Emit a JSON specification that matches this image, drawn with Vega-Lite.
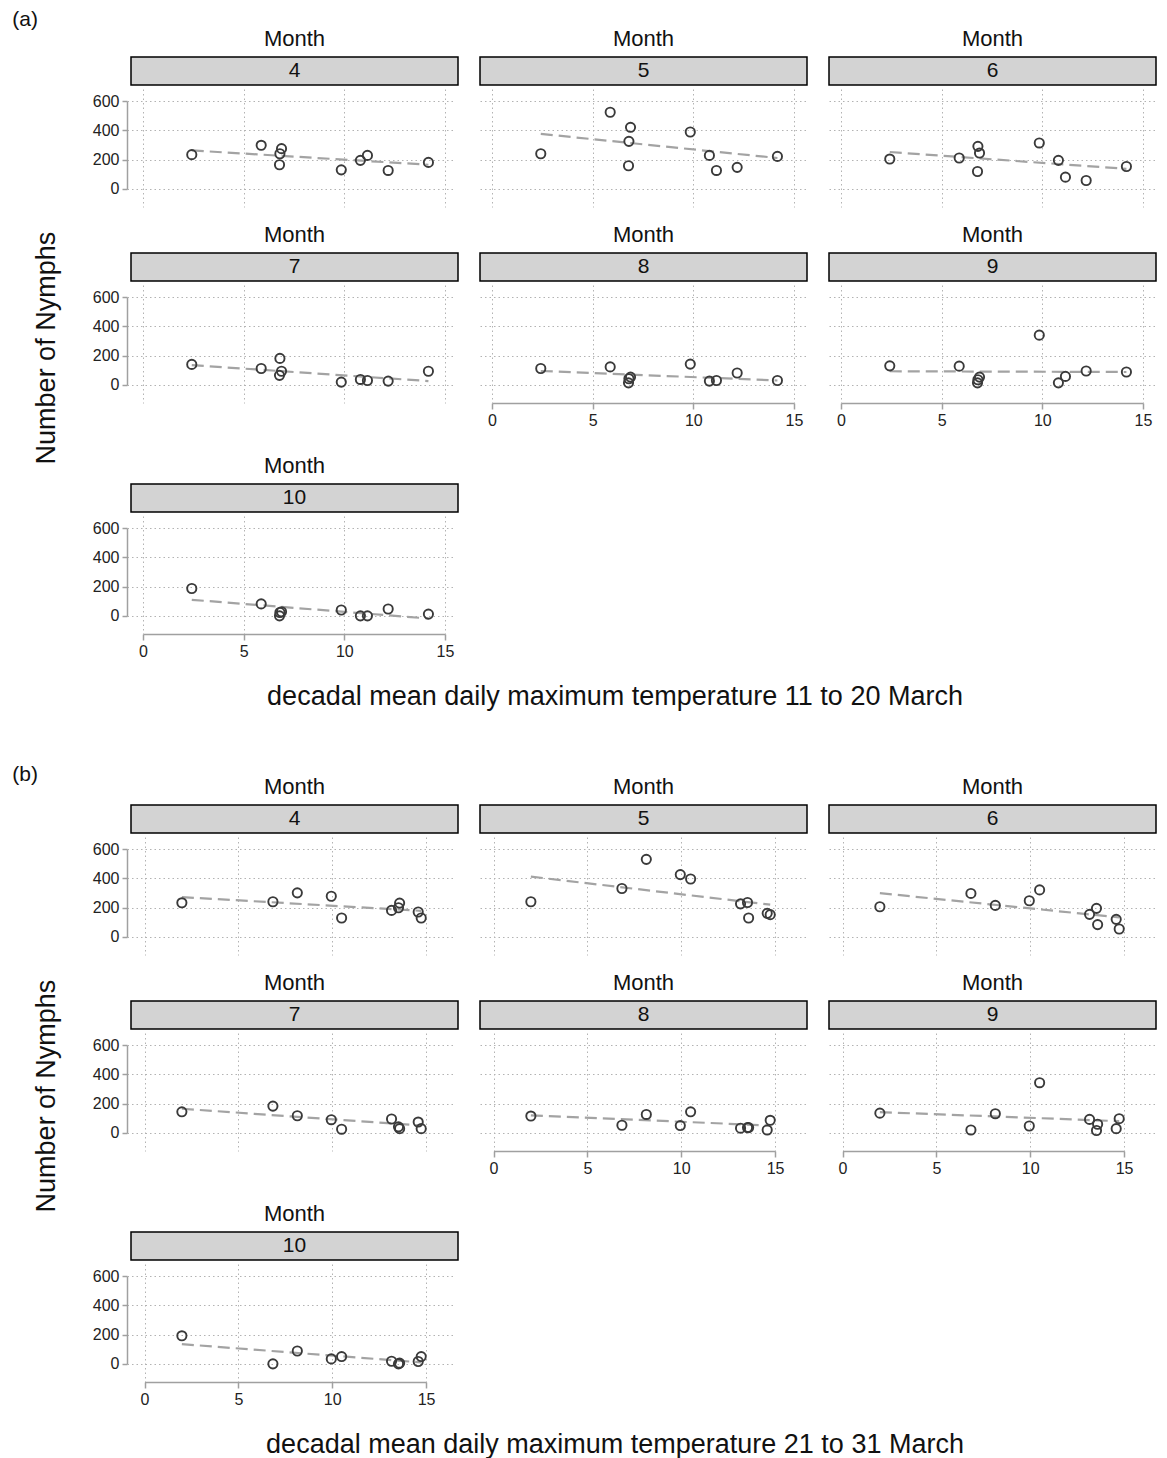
{
"$schema": "https://vega.github.io/schema/vega-lite/v6.json",
"padding": {"left": 12, "top": 9, "right": 5, "bottom": 3},
"background": "white",
"config": {
  "font": "Liberation Sans",
  "view": {"stroke": null},
  "title": {"fontSize": 22, "fontWeight": "normal", "offset": 6, "color": "#111111", "anchor": "middle"},
  "axis": {"grid": true, "gridColor": "#b3b3b3", "gridDash": [1.5, 3], "gridWidth": 1, "domainColor": "#a0a0a0", "domainWidth": 1.5, "tickColor": "#a0a0a0", "tickWidth": 1.5, "labelFontSize": 16, "labelColor": "#222222", "labelFlush": false, "labelOverlap": false},
  "axisX": {"tickSize": 6, "labelPadding": 3, "offset": 0},
  "axisY": {"tickSize": 5, "labelPadding": 3, "offset": 4, "domainDash": [87.7, 40], "domainDashOffset": 109.6},
  "line": {"color": "#a3a3a3", "strokeWidth": 2.2, "strokeDash": [12, 6]},
  "point": {"filled": false, "size": 85, "color": "#3a3a3a", "strokeWidth": 1.9, "opacity": 1},
  "text": {"fontSize": 21, "color": "#111111"}
},
"datasets": {
  "months": [{"Month":4},{"Month":5},{"Month":6},{"Month":7},{"Month":8},{"Month":9},{"Month":10}],
  "pa": [
    {"Month":4,"T":2.42,"N":234},{"Month":4,"T":5.87,"N":298},{"Month":4,"T":6.78,"N":165},{"Month":4,"T":6.8,"N":240},{"Month":4,"T":6.88,"N":275},{"Month":4,"T":9.85,"N":130},{"Month":4,"T":10.8,"N":195},{"Month":4,"T":11.15,"N":229},{"Month":4,"T":12.18,"N":126},{"Month":4,"T":14.18,"N":181},
    {"Month":5,"T":2.42,"N":240},{"Month":5,"T":5.87,"N":524},{"Month":5,"T":6.78,"N":158},{"Month":5,"T":6.8,"N":325},{"Month":5,"T":6.88,"N":421},{"Month":5,"T":9.85,"N":389},{"Month":5,"T":10.8,"N":229},{"Month":5,"T":11.15,"N":126},{"Month":5,"T":12.18,"N":147},{"Month":5,"T":14.18,"N":222},
    {"Month":6,"T":2.42,"N":204},{"Month":6,"T":5.87,"N":211},{"Month":6,"T":6.78,"N":119},{"Month":6,"T":6.8,"N":291},{"Month":6,"T":6.88,"N":245},{"Month":6,"T":9.85,"N":314},{"Month":6,"T":10.8,"N":195},{"Month":6,"T":11.15,"N":80},{"Month":6,"T":12.18,"N":57},{"Month":6,"T":14.18,"N":153},
    {"Month":7,"T":2.42,"N":140},{"Month":7,"T":5.87,"N":112},{"Month":7,"T":6.78,"N":65},{"Month":7,"T":6.8,"N":181},{"Month":7,"T":6.88,"N":93},{"Month":7,"T":9.85,"N":19},{"Month":7,"T":10.8,"N":37},{"Month":7,"T":11.15,"N":30},{"Month":7,"T":12.18,"N":26},{"Month":7,"T":14.18,"N":93},
    {"Month":8,"T":2.42,"N":112},{"Month":8,"T":5.87,"N":123},{"Month":8,"T":6.78,"N":14},{"Month":8,"T":6.8,"N":42},{"Month":8,"T":6.88,"N":53},{"Month":8,"T":9.85,"N":142},{"Month":8,"T":10.8,"N":26},{"Month":8,"T":11.15,"N":30},{"Month":8,"T":12.18,"N":81},{"Month":8,"T":14.18,"N":30},
    {"Month":9,"T":2.42,"N":130},{"Month":9,"T":5.87,"N":128},{"Month":9,"T":6.78,"N":14},{"Month":9,"T":6.8,"N":35},{"Month":9,"T":6.88,"N":53},{"Month":9,"T":9.85,"N":340},{"Month":9,"T":10.8,"N":14},{"Month":9,"T":11.15,"N":58},{"Month":9,"T":12.18,"N":95},{"Month":9,"T":14.18,"N":88},
    {"Month":10,"T":2.42,"N":187},{"Month":10,"T":5.87,"N":82},{"Month":10,"T":6.78,"N":0},{"Month":10,"T":6.8,"N":23},{"Month":10,"T":6.88,"N":28},{"Month":10,"T":9.85,"N":40},{"Month":10,"T":10.8,"N":0},{"Month":10,"T":11.15,"N":0},{"Month":10,"T":12.18,"N":47},{"Month":10,"T":14.18,"N":12}
  ],
  "pb": [
    {"Month":4,"T":1.99,"N":233},{"Month":4,"T":6.84,"N":240},{"Month":4,"T":8.14,"N":301},{"Month":4,"T":9.95,"N":278},{"Month":4,"T":10.5,"N":129},{"Month":4,"T":13.16,"N":181},{"Month":4,"T":13.53,"N":199},{"Month":4,"T":13.59,"N":231},{"Month":4,"T":14.58,"N":170},{"Month":4,"T":14.74,"N":129},
    {"Month":5,"T":1.99,"N":240},{"Month":5,"T":6.84,"N":331},{"Month":5,"T":8.14,"N":530},{"Month":5,"T":9.95,"N":426},{"Month":5,"T":10.5,"N":396},{"Month":5,"T":13.16,"N":226},{"Month":5,"T":13.53,"N":235},{"Month":5,"T":13.59,"N":129},{"Month":5,"T":14.58,"N":161},{"Month":5,"T":14.74,"N":152},
    {"Month":6,"T":1.99,"N":206},{"Month":6,"T":6.84,"N":297},{"Month":6,"T":8.14,"N":215},{"Month":6,"T":9.95,"N":247},{"Month":6,"T":10.5,"N":321},{"Month":6,"T":13.16,"N":154},{"Month":6,"T":13.53,"N":195},{"Month":6,"T":13.59,"N":84},{"Month":6,"T":14.58,"N":120},{"Month":6,"T":14.74,"N":54},
    {"Month":7,"T":1.99,"N":144},{"Month":7,"T":6.84,"N":183},{"Month":7,"T":8.14,"N":117},{"Month":7,"T":9.95,"N":90},{"Month":7,"T":10.5,"N":25},{"Month":7,"T":13.16,"N":95},{"Month":7,"T":13.53,"N":41},{"Month":7,"T":13.59,"N":29},{"Month":7,"T":14.58,"N":74},{"Month":7,"T":14.74,"N":29},
    {"Month":8,"T":1.99,"N":115},{"Month":8,"T":6.84,"N":52},{"Month":8,"T":8.14,"N":126},{"Month":8,"T":9.95,"N":50},{"Month":8,"T":10.5,"N":144},{"Month":8,"T":13.16,"N":32},{"Month":8,"T":13.53,"N":36},{"Month":8,"T":13.59,"N":36},{"Month":8,"T":14.58,"N":20},{"Month":8,"T":14.74,"N":86},
    {"Month":9,"T":1.99,"N":135},{"Month":9,"T":6.84,"N":20},{"Month":9,"T":8.14,"N":131},{"Month":9,"T":9.95,"N":47},{"Month":9,"T":10.5,"N":343},{"Month":9,"T":13.16,"N":92},{"Month":9,"T":13.53,"N":16},{"Month":9,"T":13.59,"N":59},{"Month":9,"T":14.58,"N":29},{"Month":9,"T":14.74,"N":97},
    {"Month":10,"T":1.99,"N":192},{"Month":10,"T":6.84,"N":0},{"Month":10,"T":8.14,"N":88},{"Month":10,"T":9.95,"N":34},{"Month":10,"T":10.5,"N":50},{"Month":10,"T":13.16,"N":18},{"Month":10,"T":13.53,"N":0},{"Month":10,"T":13.59,"N":5},{"Month":10,"T":14.58,"N":16},{"Month":10,"T":14.74,"N":50}
  ],
  "la": [
    {"Month":4,"T":2.42,"N":263},{"Month":4,"T":14.18,"N":165},
    {"Month":5,"T":2.42,"N":376},{"Month":5,"T":14.18,"N":211},
    {"Month":6,"T":2.42,"N":252},{"Month":6,"T":14.18,"N":137},
    {"Month":7,"T":2.42,"N":135},{"Month":7,"T":14.18,"N":26},
    {"Month":8,"T":2.42,"N":95},{"Month":8,"T":14.18,"N":30},
    {"Month":9,"T":2.42,"N":93},{"Month":9,"T":14.18,"N":88},
    {"Month":10,"T":2.42,"N":110},{"Month":10,"T":14.18,"N":-18}
  ],
  "lb": [
    {"Month":4,"T":1.99,"N":272},{"Month":4,"T":14.74,"N":178},
    {"Month":5,"T":1.99,"N":412},{"Month":5,"T":14.74,"N":220},
    {"Month":6,"T":1.99,"N":299},{"Month":6,"T":14.74,"N":133},
    {"Month":7,"T":1.99,"N":165},{"Month":7,"T":14.74,"N":50},
    {"Month":8,"T":1.99,"N":120},{"Month":8,"T":14.74,"N":50},
    {"Month":9,"T":1.99,"N":142},{"Month":9,"T":14.74,"N":80},
    {"Month":10,"T":1.99,"N":135},{"Month":10,"T":14.74,"N":10}
  ]
},
"spacing": 54,
"vconcat": [
{
  "title": {"text": "(a)", "anchor": "start", "frame": "bounds", "fontSize": 21, "offset": -3, "dx": -21},
  "vconcat": [{
    "title": {"text": "decadal mean daily maximum temperature 11 to 20 March", "orient": "bottom", "anchor": "middle", "fontSize": 27, "offset": 15, "dx": 20},
    "vconcat": [{
      "title": {"text": "Number of Nymphs", "orient": "left", "anchor": "middle", "fontSize": 27, "offset": 31},
      "spacing": 16,
      "vconcat": [
        {"spacing": 20, "hconcat": [
          {"spacing": 3, "vconcat": [
            {"width": 327, "height": 28, "title": {"text": "Month"}, "data": {"name": "months"}, "transform": [{"filter": "datum.Month == 4"}], "mark": "text", "encoding": {"text": {"field": "Month", "type": "nominal"}}, "view": {"fill": "#d3d3d3", "stroke": "#000000", "strokeWidth": 1.5}},
            {"width": 327, "height": 118,
             "encoding": {
               "x": {"field": "T", "type": "quantitative", "title": null, "scale": {"domain": [-0.6, 15.65], "nice": false, "zero": false}, "axis": {"values": [0,5,10,15], "labels": false, "ticks": false, "domain": false, "minExtent": 0}},
               "y": {"field": "N", "type": "quantitative", "title": null, "scale": {"domain": [-124, 683], "nice": false, "zero": false}, "axis": {"values": [0,200,400,600], "minExtent": 0}}},
             "layer": [
               {"data": {"name": "la"}, "transform": [{"filter": "datum.Month == 4"}], "mark": "line", "encoding": {}},
               {"data": {"name": "pa"}, "transform": [{"filter": "datum.Month == 4"}], "mark": "point"}]}
          ]},
          {"spacing": 3, "vconcat": [
            {"width": 327, "height": 28, "title": {"text": "Month"}, "data": {"name": "months"}, "transform": [{"filter": "datum.Month == 5"}], "mark": "text", "encoding": {"text": {"field": "Month", "type": "nominal"}}, "view": {"fill": "#d3d3d3", "stroke": "#000000", "strokeWidth": 1.5}},
            {"width": 327, "height": 118,
             "encoding": {
               "x": {"field": "T", "type": "quantitative", "title": null, "scale": {"domain": [-0.6, 15.65], "nice": false, "zero": false}, "axis": {"values": [0,5,10,15], "labels": false, "ticks": false, "domain": false, "minExtent": 0}},
               "y": {"field": "N", "type": "quantitative", "title": null, "scale": {"domain": [-124, 683], "nice": false, "zero": false}, "axis": {"values": [0,200,400,600], "labels": false, "ticks": false, "domain": false, "minExtent": 0, "offset": 0}}},
             "layer": [
               {"data": {"name": "la"}, "transform": [{"filter": "datum.Month == 5"}], "mark": "line", "encoding": {}},
               {"data": {"name": "pa"}, "transform": [{"filter": "datum.Month == 5"}], "mark": "point"}]}
          ]},
          {"spacing": 3, "vconcat": [
            {"width": 327, "height": 28, "title": {"text": "Month"}, "data": {"name": "months"}, "transform": [{"filter": "datum.Month == 6"}], "mark": "text", "encoding": {"text": {"field": "Month", "type": "nominal"}}, "view": {"fill": "#d3d3d3", "stroke": "#000000", "strokeWidth": 1.5}},
            {"width": 327, "height": 118,
             "encoding": {
               "x": {"field": "T", "type": "quantitative", "title": null, "scale": {"domain": [-0.6, 15.65], "nice": false, "zero": false}, "axis": {"values": [0,5,10,15], "labels": false, "ticks": false, "domain": false, "minExtent": 0}},
               "y": {"field": "N", "type": "quantitative", "title": null, "scale": {"domain": [-124, 683], "nice": false, "zero": false}, "axis": {"values": [0,200,400,600], "labels": false, "ticks": false, "domain": false, "minExtent": 0, "offset": 0}}},
             "layer": [
               {"data": {"name": "la"}, "transform": [{"filter": "datum.Month == 6"}], "mark": "line", "encoding": {}},
               {"data": {"name": "pa"}, "transform": [{"filter": "datum.Month == 6"}], "mark": "point"}]}
          ]}
        ]},
        {"spacing": 20, "hconcat": [
          {"spacing": 3, "vconcat": [
            {"width": 327, "height": 28, "title": {"text": "Month"}, "data": {"name": "months"}, "transform": [{"filter": "datum.Month == 7"}], "mark": "text", "encoding": {"text": {"field": "Month", "type": "nominal"}}, "view": {"fill": "#d3d3d3", "stroke": "#000000", "strokeWidth": 1.5}},
            {"width": 327, "height": 118,
             "encoding": {
               "x": {"field": "T", "type": "quantitative", "title": null, "scale": {"domain": [-0.6, 15.65], "nice": false, "zero": false}, "axis": {"values": [0,5,10,15], "labels": false, "ticks": false, "domain": false, "minExtent": 0}},
               "y": {"field": "N", "type": "quantitative", "title": null, "scale": {"domain": [-124, 683], "nice": false, "zero": false}, "axis": {"values": [0,200,400,600], "minExtent": 0}}},
             "layer": [
               {"data": {"name": "la"}, "transform": [{"filter": "datum.Month == 7"}], "mark": "line", "encoding": {}},
               {"data": {"name": "pa"}, "transform": [{"filter": "datum.Month == 7"}], "mark": "point"}]}
          ]},
          {"spacing": 3, "vconcat": [
            {"width": 327, "height": 28, "title": {"text": "Month"}, "data": {"name": "months"}, "transform": [{"filter": "datum.Month == 8"}], "mark": "text", "encoding": {"text": {"field": "Month", "type": "nominal"}}, "view": {"fill": "#d3d3d3", "stroke": "#000000", "strokeWidth": 1.5}},
            {"width": 327, "height": 118,
             "encoding": {
               "x": {"field": "T", "type": "quantitative", "title": null, "scale": {"domain": [-0.6, 15.65], "nice": false, "zero": false}, "axis": {"values": [0,5,10,15], "minExtent": 35, "domainDash": [301.8, 100], "domainDashOffset": 389.7}},
               "y": {"field": "N", "type": "quantitative", "title": null, "scale": {"domain": [-124, 683], "nice": false, "zero": false}, "axis": {"values": [0,200,400,600], "labels": false, "ticks": false, "domain": false, "minExtent": 0, "offset": 0}}},
             "layer": [
               {"data": {"name": "la"}, "transform": [{"filter": "datum.Month == 8"}], "mark": "line", "encoding": {}},
               {"data": {"name": "pa"}, "transform": [{"filter": "datum.Month == 8"}], "mark": "point"}]}
          ]},
          {"spacing": 3, "vconcat": [
            {"width": 327, "height": 28, "title": {"text": "Month"}, "data": {"name": "months"}, "transform": [{"filter": "datum.Month == 9"}], "mark": "text", "encoding": {"text": {"field": "Month", "type": "nominal"}}, "view": {"fill": "#d3d3d3", "stroke": "#000000", "strokeWidth": 1.5}},
            {"width": 327, "height": 118,
             "encoding": {
               "x": {"field": "T", "type": "quantitative", "title": null, "scale": {"domain": [-0.6, 15.65], "nice": false, "zero": false}, "axis": {"values": [0,5,10,15], "minExtent": 35, "domainDash": [301.8, 100], "domainDashOffset": 389.7}},
               "y": {"field": "N", "type": "quantitative", "title": null, "scale": {"domain": [-124, 683], "nice": false, "zero": false}, "axis": {"values": [0,200,400,600], "labels": false, "ticks": false, "domain": false, "minExtent": 0, "offset": 0}}},
             "layer": [
               {"data": {"name": "la"}, "transform": [{"filter": "datum.Month == 9"}], "mark": "line", "encoding": {}},
               {"data": {"name": "pa"}, "transform": [{"filter": "datum.Month == 9"}], "mark": "point"}]}
          ]}
        ]},
        {"spacing": 20, "hconcat": [
          {"spacing": 3, "vconcat": [
            {"width": 327, "height": 28, "title": {"text": "Month"}, "data": {"name": "months"}, "transform": [{"filter": "datum.Month == 10"}], "mark": "text", "encoding": {"text": {"field": "Month", "type": "nominal"}}, "view": {"fill": "#d3d3d3", "stroke": "#000000", "strokeWidth": 1.5}},
            {"width": 327, "height": 118,
             "encoding": {
               "x": {"field": "T", "type": "quantitative", "title": null, "scale": {"domain": [-0.6, 15.65], "nice": false, "zero": false}, "axis": {"values": [0,5,10,15], "minExtent": 35, "domainDash": [301.8, 100], "domainDashOffset": 389.7}},
               "y": {"field": "N", "type": "quantitative", "title": null, "scale": {"domain": [-124, 683], "nice": false, "zero": false}, "axis": {"values": [0,200,400,600], "minExtent": 0}}},
             "layer": [
               {"data": {"name": "la"}, "transform": [{"filter": "datum.Month == 10"}], "mark": "line", "encoding": {}},
               {"data": {"name": "pa"}, "transform": [{"filter": "datum.Month == 10"}], "mark": "point"}]}
          ]}
        ]}
      ]
    }]
  }]
},
{
  "title": {"text": "(b)", "anchor": "start", "frame": "bounds", "fontSize": 21, "offset": -10, "dx": -21},
  "vconcat": [{
    "title": {"text": "decadal mean daily maximum temperature 21 to 31 March", "orient": "bottom", "anchor": "middle", "fontSize": 27, "offset": 15, "dx": 20},
    "vconcat": [{
      "title": {"text": "Number of Nymphs", "orient": "left", "anchor": "middle", "fontSize": 27, "offset": 31},
      "spacing": 16,
      "vconcat": [
        {"spacing": 20, "hconcat": [
          {"spacing": 3, "vconcat": [
            {"width": 327, "height": 28, "title": {"text": "Month"}, "data": {"name": "months"}, "transform": [{"filter": "datum.Month == 4"}], "mark": "text", "encoding": {"text": {"field": "Month", "type": "nominal"}}, "view": {"fill": "#d3d3d3", "stroke": "#000000", "strokeWidth": 1.5}},
            {"width": 327, "height": 118,
             "encoding": {
               "x": {"field": "T", "type": "quantitative", "title": null, "scale": {"domain": [-0.72, 16.7], "nice": false, "zero": false}, "axis": {"values": [0,5,10,15], "labels": false, "ticks": false, "domain": false, "minExtent": 0}},
               "y": {"field": "N", "type": "quantitative", "title": null, "scale": {"domain": [-124, 683], "nice": false, "zero": false}, "axis": {"values": [0,200,400,600], "minExtent": 0}}},
             "layer": [
               {"data": {"name": "lb"}, "transform": [{"filter": "datum.Month == 4"}], "mark": "line", "encoding": {}},
               {"data": {"name": "pb"}, "transform": [{"filter": "datum.Month == 4"}], "mark": "point"}]}
          ]},
          {"spacing": 3, "vconcat": [
            {"width": 327, "height": 28, "title": {"text": "Month"}, "data": {"name": "months"}, "transform": [{"filter": "datum.Month == 5"}], "mark": "text", "encoding": {"text": {"field": "Month", "type": "nominal"}}, "view": {"fill": "#d3d3d3", "stroke": "#000000", "strokeWidth": 1.5}},
            {"width": 327, "height": 118,
             "encoding": {
               "x": {"field": "T", "type": "quantitative", "title": null, "scale": {"domain": [-0.72, 16.7], "nice": false, "zero": false}, "axis": {"values": [0,5,10,15], "labels": false, "ticks": false, "domain": false, "minExtent": 0}},
               "y": {"field": "N", "type": "quantitative", "title": null, "scale": {"domain": [-124, 683], "nice": false, "zero": false}, "axis": {"values": [0,200,400,600], "labels": false, "ticks": false, "domain": false, "minExtent": 0, "offset": 0}}},
             "layer": [
               {"data": {"name": "lb"}, "transform": [{"filter": "datum.Month == 5"}], "mark": "line", "encoding": {}},
               {"data": {"name": "pb"}, "transform": [{"filter": "datum.Month == 5"}], "mark": "point"}]}
          ]},
          {"spacing": 3, "vconcat": [
            {"width": 327, "height": 28, "title": {"text": "Month"}, "data": {"name": "months"}, "transform": [{"filter": "datum.Month == 6"}], "mark": "text", "encoding": {"text": {"field": "Month", "type": "nominal"}}, "view": {"fill": "#d3d3d3", "stroke": "#000000", "strokeWidth": 1.5}},
            {"width": 327, "height": 118,
             "encoding": {
               "x": {"field": "T", "type": "quantitative", "title": null, "scale": {"domain": [-0.72, 16.7], "nice": false, "zero": false}, "axis": {"values": [0,5,10,15], "labels": false, "ticks": false, "domain": false, "minExtent": 0}},
               "y": {"field": "N", "type": "quantitative", "title": null, "scale": {"domain": [-124, 683], "nice": false, "zero": false}, "axis": {"values": [0,200,400,600], "labels": false, "ticks": false, "domain": false, "minExtent": 0, "offset": 0}}},
             "layer": [
               {"data": {"name": "lb"}, "transform": [{"filter": "datum.Month == 6"}], "mark": "line", "encoding": {}},
               {"data": {"name": "pb"}, "transform": [{"filter": "datum.Month == 6"}], "mark": "point"}]}
          ]}
        ]},
        {"spacing": 20, "hconcat": [
          {"spacing": 3, "vconcat": [
            {"width": 327, "height": 28, "title": {"text": "Month"}, "data": {"name": "months"}, "transform": [{"filter": "datum.Month == 7"}], "mark": "text", "encoding": {"text": {"field": "Month", "type": "nominal"}}, "view": {"fill": "#d3d3d3", "stroke": "#000000", "strokeWidth": 1.5}},
            {"width": 327, "height": 118,
             "encoding": {
               "x": {"field": "T", "type": "quantitative", "title": null, "scale": {"domain": [-0.72, 16.7], "nice": false, "zero": false}, "axis": {"values": [0,5,10,15], "labels": false, "ticks": false, "domain": false, "minExtent": 0}},
               "y": {"field": "N", "type": "quantitative", "title": null, "scale": {"domain": [-124, 683], "nice": false, "zero": false}, "axis": {"values": [0,200,400,600], "minExtent": 0}}},
             "layer": [
               {"data": {"name": "lb"}, "transform": [{"filter": "datum.Month == 7"}], "mark": "line", "encoding": {}},
               {"data": {"name": "pb"}, "transform": [{"filter": "datum.Month == 7"}], "mark": "point"}]}
          ]},
          {"spacing": 3, "vconcat": [
            {"width": 327, "height": 28, "title": {"text": "Month"}, "data": {"name": "months"}, "transform": [{"filter": "datum.Month == 8"}], "mark": "text", "encoding": {"text": {"field": "Month", "type": "nominal"}}, "view": {"fill": "#d3d3d3", "stroke": "#000000", "strokeWidth": 1.5}},
            {"width": 327, "height": 118,
             "encoding": {
               "x": {"field": "T", "type": "quantitative", "title": null, "scale": {"domain": [-0.72, 16.7], "nice": false, "zero": false}, "axis": {"values": [0,5,10,15], "minExtent": 35, "domainDash": [281.6, 100], "domainDashOffset": 368.1}},
               "y": {"field": "N", "type": "quantitative", "title": null, "scale": {"domain": [-124, 683], "nice": false, "zero": false}, "axis": {"values": [0,200,400,600], "labels": false, "ticks": false, "domain": false, "minExtent": 0, "offset": 0}}},
             "layer": [
               {"data": {"name": "lb"}, "transform": [{"filter": "datum.Month == 8"}], "mark": "line", "encoding": {}},
               {"data": {"name": "pb"}, "transform": [{"filter": "datum.Month == 8"}], "mark": "point"}]}
          ]},
          {"spacing": 3, "vconcat": [
            {"width": 327, "height": 28, "title": {"text": "Month"}, "data": {"name": "months"}, "transform": [{"filter": "datum.Month == 9"}], "mark": "text", "encoding": {"text": {"field": "Month", "type": "nominal"}}, "view": {"fill": "#d3d3d3", "stroke": "#000000", "strokeWidth": 1.5}},
            {"width": 327, "height": 118,
             "encoding": {
               "x": {"field": "T", "type": "quantitative", "title": null, "scale": {"domain": [-0.72, 16.7], "nice": false, "zero": false}, "axis": {"values": [0,5,10,15], "minExtent": 35, "domainDash": [281.6, 100], "domainDashOffset": 368.1}},
               "y": {"field": "N", "type": "quantitative", "title": null, "scale": {"domain": [-124, 683], "nice": false, "zero": false}, "axis": {"values": [0,200,400,600], "labels": false, "ticks": false, "domain": false, "minExtent": 0, "offset": 0}}},
             "layer": [
               {"data": {"name": "lb"}, "transform": [{"filter": "datum.Month == 9"}], "mark": "line", "encoding": {}},
               {"data": {"name": "pb"}, "transform": [{"filter": "datum.Month == 9"}], "mark": "point"}]}
          ]}
        ]},
        {"spacing": 20, "hconcat": [
          {"spacing": 3, "vconcat": [
            {"width": 327, "height": 28, "title": {"text": "Month"}, "data": {"name": "months"}, "transform": [{"filter": "datum.Month == 10"}], "mark": "text", "encoding": {"text": {"field": "Month", "type": "nominal"}}, "view": {"fill": "#d3d3d3", "stroke": "#000000", "strokeWidth": 1.5}},
            {"width": 327, "height": 118,
             "encoding": {
               "x": {"field": "T", "type": "quantitative", "title": null, "scale": {"domain": [-0.72, 16.7], "nice": false, "zero": false}, "axis": {"values": [0,5,10,15], "minExtent": 35, "domainDash": [281.6, 100], "domainDashOffset": 368.1}},
               "y": {"field": "N", "type": "quantitative", "title": null, "scale": {"domain": [-124, 683], "nice": false, "zero": false}, "axis": {"values": [0,200,400,600], "minExtent": 0}}},
             "layer": [
               {"data": {"name": "lb"}, "transform": [{"filter": "datum.Month == 10"}], "mark": "line", "encoding": {}},
               {"data": {"name": "pb"}, "transform": [{"filter": "datum.Month == 10"}], "mark": "point"}]}
          ]}
        ]}
      ]
    }]
  }]
}
]
}
